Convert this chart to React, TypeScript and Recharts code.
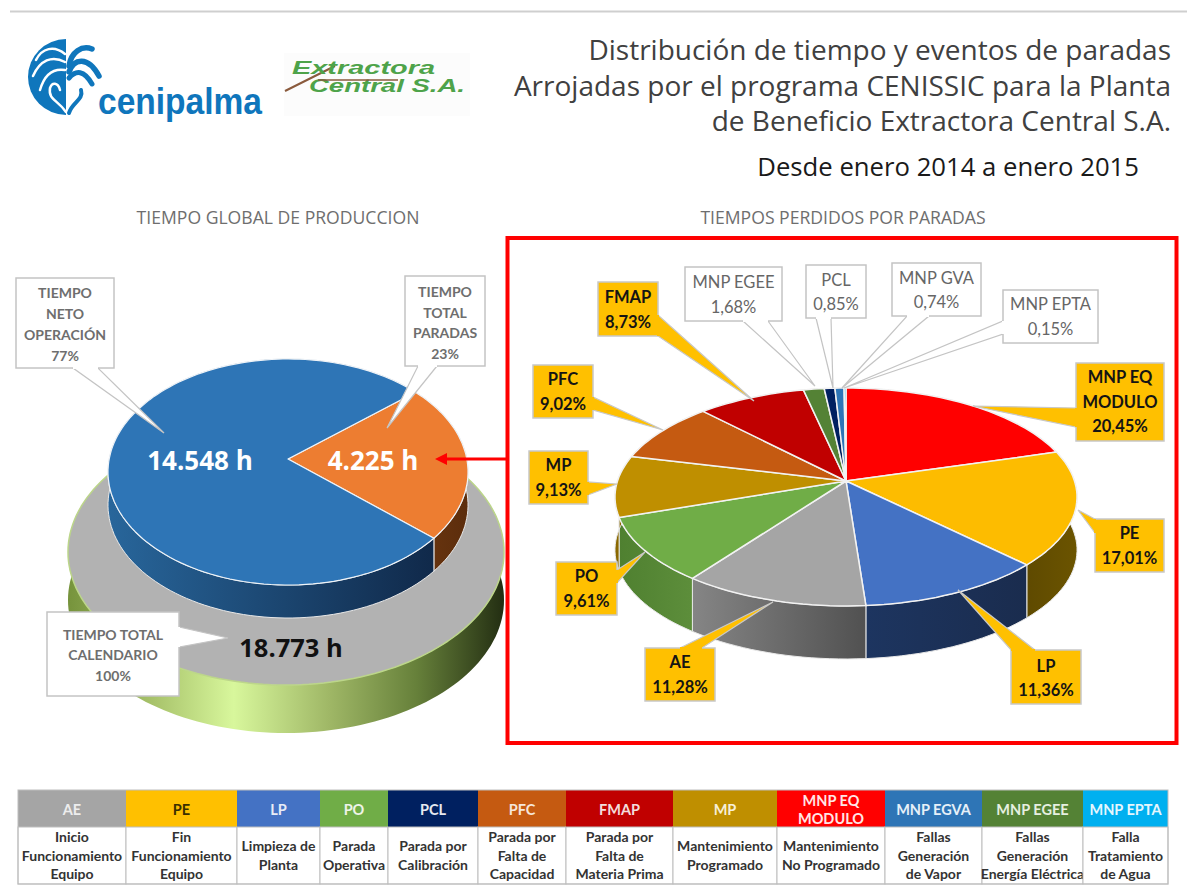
import React from "react";
import { PieChart, Pie } from "recharts";

// ---------- data ----------
const globalLabels = ["Tiempo total paradas", "Tiempo neto operación"];
const globalHours = [4225, 14548];
const globalFills = ["#ed7d31", "#2e75b6"];
const globalWalls = [["#6b3610", "#5c2d0c"], ["#28669b", "#10294a"]];

const calendarLabels = ["Tiempo total calendario"];
const calendarHours = [18773];

const stopCodes = ["MNP EQ MODULO", "PE", "LP", "AE", "PO", "MP", "PFC", "FMAP", "MNP EGEE", "PCL", "MNP GVA", "MNP EPTA"];
const stopShares = [20.45, 17.01, 11.36, 11.28, 9.61, 9.13, 9.02, 8.73, 1.68, 0.85, 0.74, 0.15];
const stopFills = ["#ff0000", "#fdbc00", "#4472c4", "#a5a5a5", "#70ad47", "#bf8f00", "#c55a11", "#c00000", "#548235", "#002060", "#2e75b6", "#00b0f0"];
const stopWalls = [
  ["#990000", "#990000"], ["#5f4a00", "#6b5400"], ["#1d3560", "#1a2c4e"], ["#858585", "#515151"],
  ["#4f8030", "#5d8e3b"], ["#8a6800", "#8a6800"], ["#8a3f0c", "#8a3f0c"], ["#860000", "#860000"],
  ["#3a5a25", "#3a5a25"], ["#001540", "#001540"], ["#1f5280", "#1f5280"], ["#007ba8", "#007ba8"],
];

const legendCodes = [["AE"], ["PE"], ["LP"], ["PO"], ["PCL"], ["PFC"], ["FMAP"], ["MP"], ["MNP EQ", "MODULO"], ["MNP EGVA"], ["MNP EGEE"], ["MNP EPTA"]];
const legendFills = ["#a5a5a5", "#ffc000", "#4472c4", "#70ad47", "#002060", "#c55a11", "#c00000", "#bf8f00", "#ff0000", "#2e75b6", "#548235", "#00b0f0"];
const legendText = ["#ededed", "#3a2f00", "#e8ecf6", "#eef4e8", "#e6e9f0", "#f6e6da", "#f3dcdc", "#f7efd8", "#ffe6e6", "#e6f0f8", "#e6efe0", "#e6f6fd"];
const legendDescriptions = [
  ["Inicio", "Funcionamiento", "Equipo"], ["Fin", "Funcionamiento", "Equipo"], ["Limpieza de", "Planta"], ["Parada", "Operativa"],
  ["Parada por", "Calibración"], ["Parada por", "Falta de", "Capacidad"], ["Parada por", "Falta de", "Materia Prima"], ["Mantenimiento", "Programado"],
  ["Mantenimiento", "No Programado"], ["Fallas", "Generación", "de Vapor"], ["Fallas", "Generación", "Energía Eléctrica"], ["Falla", "Tratamiento", "de Agua"],
];

const titleLines = ["Distribución de tiempo y eventos de paradas", "Arrojadas por el programa CENISSIC para la Planta", "de Beneficio Extractora Central S.A."];
const subtitle = "Desde enero 2014 a enero 2015";

// ---------- tables for the library ----------
const globalTable = globalHours.map((value, i) => ({ name: globalLabels[i], value, fill: globalFills[i], wallA: globalWalls[i][0], wallB: globalWalls[i][1] }));
const calendarTable = calendarHours.map((value, i) => ({ name: calendarLabels[i], value, fill: "#b2b2b2" }));
const stopTable = stopShares.map((value, i) => ({ name: stopCodes[i], value, fill: stopFills[i], wallA: stopWalls[i][0], wallB: stopWalls[i][1] }));

// ---------- perspective sector shapes ----------
const RAD = Math.PI / 180;
type View = { k: number; aspect: number; depth: number };

function rimPoints(p: any, v: View) {
  const steps = Math.max(2, Math.ceil(Math.abs(p.endAngle - p.startAngle) / 2));
  const pts: [number, number][] = [];
  for (let i = 0; i <= steps; i++) {
    const deg = p.startAngle + ((p.endAngle - p.startAngle) * i) / steps;
    const x = Math.cos(deg * RAD);
    const y = -Math.sin(deg * RAD);
    const d = 1 - v.k * y;
    pts.push([p.cx + (p.outerRadius * x) / d, p.cy + (p.outerRadius * v.aspect * y) / d]);
  }
  return pts;
}
const toPath = (pts: [number, number][]) => pts.map((q, i) => `${i ? "L" : "M"}${q[0].toFixed(1)} ${q[1].toFixed(1)}`).join("");

const topShape = (v: View, stroke: string, sw: number) => (p: any) => (
  <path d={`M${p.cx} ${p.cy}` + toPath(rimPoints(p, v)).replace("M", "L") + "Z"} fill={p.fill} stroke={stroke} strokeWidth={sw} strokeLinejoin="round" />
);

const wallShape = (v: View, prefix: string) => (p: any) => {
  const pts = rimPoints(p, v);
  const low = pts.slice().reverse().map((q) => [q[0], q[1] + v.depth] as [number, number]);
  const a = p.wallA ?? p.payload?.wallA;
  const b = p.wallB ?? p.payload?.wallB;
  const id = `${prefix}${p.index ?? String(p.name).replace(/\W/g, "")}`;
  return (
    <g>
      <defs>
        <linearGradient id={id} x1="0" x2="1" y1="0" y2="0">
          <stop offset="0" stopColor={a} />
          <stop offset="1" stopColor={b} />
        </linearGradient>
      </defs>
      <path d={toPath(pts) + toPath(low).replace("M", "L") + "Z"} fill={`url(#${id})`} stroke="#e8e8e8" strokeWidth={1} />
    </g>
  );
};

const baseWallShape = (v: View) => (p: any) => {
  const pts = rimPoints(p, v);
  const low = pts.slice().reverse().map((q) => [q[0], q[1] + v.depth] as [number, number]);
  return (
    <g>
      <defs>
        <linearGradient id="baseWall" x1="0" x2="1" y1="0" y2="0">
          <stop offset="0" stopColor="#76933c" />
          <stop offset="0.2" stopColor="#a9c46c" />
          <stop offset="0.38" stopColor="#d8f79c" />
          <stop offset="0.6" stopColor="#9fb766" />
          <stop offset="0.8" stopColor="#66803a" />
          <stop offset="1" stopColor="#232e12" />
        </linearGradient>
      </defs>
      <path d={toPath(pts) + toPath(low).replace("M", "L") + "Z"} fill="url(#baseWall)" />
    </g>
  );
};

const viewGlobal: View = { k: 0.115, aspect: 111.5 / 178.8, depth: 33 };
const viewCalendar: View = { k: 0, aspect: 133 / 218, depth: 48 };
const viewStops: View = { k: 0.147, aspect: 106.6 / 228.5, depth: 53 };

function shapeProps(fn: any) {
  return { shape: fn, inactiveShape: fn, activeShape: fn };
}

// ---------- callouts ----------
const FONT = "Lato, 'Open Sans', sans-serif";
type Call = { lines: string[]; box: number[]; wedge: number[][]; rows: number[]; fill: string; stroke: string; color: string; weight: number; size: number };

const GOLD = { fill: "#ffc000", stroke: "#c8c8c8", color: "#141414", weight: 700, size: 16.5 };
const PALE = { fill: "#ffffff", stroke: "#c4c4c4", color: "#666666", weight: 400, size: 16.5 };
const GREY = { fill: "#ffffff", stroke: "#c4c4c4", color: "#6e6e6e", weight: 700, size: 14 };

const calls: Call[] = [
  { ...GREY, lines: ["TIEMPO", "NETO", "OPERACIÓN", "77%"], box: [16, 278, 98, 90], wedge: [[73, 368], [98, 368], [164, 433]], rows: [292, 313, 334, 355] },
  { ...GREY, lines: ["TIEMPO", "TOTAL", "PARADAS", "23%"], box: [405, 276, 80, 90], wedge: [[418, 366], [437, 366], [387, 428]], rows: [291, 312, 332, 353] },
  { ...GREY, lines: ["TIEMPO TOTAL", "CALENDARIO", "100%"], box: [47, 612, 132, 84], wedge: [[179, 627], [179, 647], [228, 638]], rows: [634, 654, 675] },
  { ...GOLD, lines: ["FMAP", "8,73%"], box: [598, 282, 60, 54], wedge: [[658, 315], [658, 336], [754, 401]], rows: [297, 322] },
  { ...PALE, lines: ["MNP EGEE", "1,68%"], box: [685, 267, 97, 54], wedge: [[743, 321], [768, 321], [815, 386]], rows: [282, 307] },
  { ...PALE, lines: ["PCL", "0,85%"], box: [806, 265, 60, 53], wedge: [[816, 318], [831, 318], [833, 388]], rows: [280, 304] },
  { ...PALE, lines: ["MNP GVA", "0,74%"], box: [892, 263, 89, 53], wedge: [[907, 316], [929, 316], [842, 388]], rows: [278, 302] },
  { ...PALE, lines: ["MNP EPTA", "0,15%"], box: [1003, 290, 95, 53], wedge: [[1003, 321], [1003, 334], [844, 388]], rows: [304, 329] },
  { ...GOLD, lines: ["MNP EQ", "MODULO", "20,45%"], box: [1076, 363, 88, 78], wedge: [[1076, 408], [1076, 427], [973, 406]], rows: [377, 402, 426] },
  { ...GOLD, lines: ["PE", "17,01%"], box: [1095, 519, 69, 53], wedge: [[1095, 519], [1095, 533], [1078, 510]], rows: [533, 558] },
  { ...GOLD, lines: ["LP", "11,36%"], box: [1011, 650, 70, 54], wedge: [[1011, 650], [1035, 650], [958, 590]], rows: [666, 690] },
  { ...GOLD, lines: ["AE", "11,28%"], box: [645, 648, 70, 53], wedge: [[680, 648], [702, 648], [773, 602]], rows: [662, 687] },
  { ...GOLD, lines: ["PO", "9,61%"], box: [556, 562, 61, 53], wedge: [[617, 570], [617, 583], [645, 552]], rows: [576, 601] },
  { ...GOLD, lines: ["MP", "9,13%"], box: [529, 451, 59, 53], wedge: [[588, 482], [588, 495], [617, 484]], rows: [465, 490] },
  { ...GOLD, lines: ["PFC", "9,02%"], box: [533, 365, 60, 53], wedge: [[593, 397], [593, 410], [663, 430]], rows: [379, 404] },
];

const Callout = ({ c }: { c: Call }) => {
  const [x, y, w, h] = c.box;
  return (
    <g>
      <polygon points={c.wedge.map((q) => q.join(",")).join(" ")} fill={c.fill} stroke={c.stroke} strokeWidth={1.2} />
      <rect x={x} y={y} width={w} height={h} fill={c.fill} stroke={c.stroke} strokeWidth={1.5} />
      <line x1={c.wedge[0][0]} y1={c.wedge[0][1]} x2={c.wedge[1][0]} y2={c.wedge[1][1]} stroke={c.fill} strokeWidth={2} />
      {c.lines.map((t, i) => (
        <text key={i} x={x + w / 2} y={c.rows[i]} textAnchor="middle" dominantBaseline="central" fontFamily={FONT} fontSize={c.size} fontWeight={c.weight} fill={c.color}>
          {t}
        </text>
      ))}
    </g>
  );
};

// ---------- legend table ----------
const colEdges = [18, 126, 237, 320, 388, 478, 566, 673, 777, 885, 982, 1083, 1168];

const LegendTable = () => (
  <g fontFamily={FONT} fontWeight={700}>
    {legendCodes.map((code, i) => {
      const x0 = colEdges[i];
      const x1 = colEdges[i + 1];
      const mid = (x0 + x1) / 2;
      const desc = legendDescriptions[i];
      return (
        <g key={i}>
          <rect x={x0} y={790} width={x1 - x0} height={37} fill={legendFills[i]} />
          <rect x={x0} y={827} width={x1 - x0} height={57} fill="#fff" stroke="#bdbdbd" strokeWidth={1} />
          {code.map((t, j) => (
            <text key={j} x={mid} y={809 + (j - (code.length - 1) / 2) * 18} textAnchor="middle" dominantBaseline="central" fontSize={14.5} fill={legendText[i]}>{t}</text>
          ))}
          {desc.map((t, j) => (
            <text key={j} x={mid} y={855 + (j - (desc.length - 1) / 2) * 18.5} textAnchor="middle" dominantBaseline="central" fontSize={14} fill="#333333">{t}</text>
          ))}
        </g>
      );
    })}
    <rect x={18} y={790} width={1150} height={94} fill="none" stroke="#bdbdbd" strokeWidth={1} />
  </g>
);

// ---------- logos ----------
const LOGO_BLUE = "#0f76bc";
const Logos = () => (
  <g>
    <path d="M66 39 A38 38 0 0 0 66 115 Z" fill={LOGO_BLUE} />
    <g fill="none" stroke="#fff" strokeLinecap="round">
      <path d="M65 54 C54 45 42 48 36 60" strokeWidth={2.5} />
      <path d="M65 62 C52 55 40 60 33 76" strokeWidth={2.5} />
      <path d="M65 70 C52 68 44 76 40 90" strokeWidth={2.5} />
      <path d="M66 112 C58 100 48 100 50 88 C52 82 58 82 60 90" strokeWidth={2.5} />
    </g>
    <g fill="none" stroke={LOGO_BLUE} strokeLinecap="round">
      <path d="M69 66 C71 52 82 45 92 49" strokeWidth={5.5} />
      <path d="M69 72 C74 58 88 56 99 76" strokeWidth={5.5} />
      <path d="M69 78 C76 70 84 70 92 84" strokeWidth={5} />
      <path d="M69 113 C72 102 84 100 81 90" strokeWidth={4} />
    </g>
    <text x={98} y={114} fontFamily="'Liberation Sans Narrow', 'Liberation Sans', sans-serif" fontWeight={700} fontSize={36} fill={LOGO_BLUE} textLength={164} lengthAdjust="spacingAndGlyphs">cenipalma</text>
    <rect x={284} y={53} width={186} height={63} fill="#fcfcfc" />
    <line x1={285} y1={91} x2={335} y2={66} stroke="#8a5a3c" strokeWidth={2} />
    <text x={292} y={74} fontFamily="'Liberation Sans', sans-serif" fontStyle="italic" fontWeight={700} fontSize={18} fill="#4ea34a" textLength={143} lengthAdjust="spacingAndGlyphs">Extractora</text>
    <text x={309} y={92} fontFamily="'Liberation Sans', sans-serif" fontStyle="italic" fontWeight={700} fontSize={18} fill="#4ea34a" textLength={156} lengthAdjust="spacingAndGlyphs">Central S.A.</text>
    <line x1={318} y1={80} x2={398} y2={80} stroke="#8a5a3c" strokeWidth={1.5} />
  </g>
);

// ---------- page ----------
export default function App() {
  return (
    <div style={{ position: "absolute", left: 0, top: 0, width: 1187, height: 889, background: "#fff", overflow: "hidden" }}>
      <div style={{ position: "absolute", left: 0, top: 0 }}>
        <PieChart width={1187} height={889} margin={{ top: 0, right: 0, bottom: 0, left: 0 }}>
          <Pie data={calendarTable} dataKey="value" nameKey="name" cx={286} cy={552} outerRadius={218} startAngle={90} endAngle={-270} isAnimationActive={false} label={false} labelLine={false} stroke="none" {...shapeProps(baseWallShape(viewCalendar))} />
          <Pie data={calendarTable} dataKey="value" nameKey="name" cx={286} cy={552} outerRadius={218} startAngle={90} endAngle={-270} isAnimationActive={false} label={false} labelLine={false} stroke="none" {...shapeProps(topShape(viewCalendar, "#bcd68a", 1.5))} />
          <Pie data={globalTable} dataKey="value" nameKey="name" cx={288} cy={459} outerRadius={178.8} startAngle={40} endAngle={-320} isAnimationActive={false} label={false} labelLine={false} stroke="none" {...shapeProps(wallShape(viewGlobal, "gw"))} />
          <Pie data={globalTable} dataKey="value" nameKey="name" cx={288} cy={459} outerRadius={178.8} startAngle={40} endAngle={-320} isAnimationActive={false} label={false} labelLine={false} stroke="none" {...shapeProps(topShape(viewGlobal, "#eef3f8", 1.2))} />
          <Pie data={stopTable} dataKey="value" nameKey="name" cx={846} cy={481} outerRadius={228.5} startAngle={90} endAngle={-270} isAnimationActive={false} label={false} labelLine={false} stroke="none" {...shapeProps(wallShape(viewStops, "sw"))} />
          <Pie data={stopTable} dataKey="value" nameKey="name" cx={846} cy={481} outerRadius={228.5} startAngle={90} endAngle={-270} isAnimationActive={false} label={false} labelLine={false} stroke="none" {...shapeProps(topShape(viewStops, "#f2f2f2", 1.5))} />
        </PieChart>
      </div>
      <svg width={1187} height={889} style={{ position: "absolute", left: 0, top: 0 }}>
        <line x1={10} y1={11.5} x2={1187} y2={11.5} stroke="#cfcfcf" strokeWidth={2} />
        <Logos />
        {titleLines.map((t, i) => (
          <text key={i} x={1171} y={[60, 96, 131][i]} textAnchor="end" fontFamily="'Open Sans', sans-serif" fontSize={28} fill="#404040">{t}</text>
        ))}
        <text x={1139} y={176} textAnchor="end" fontFamily="'Open Sans', sans-serif" fontSize={25.7} fill="#1a1a1a">{subtitle}</text>
        <text x={278} y={224} textAnchor="middle" fontFamily="'Open Sans', sans-serif" fontSize={17.6} fill="#6e6e6e">TIEMPO GLOBAL DE PRODUCCION</text>
        <text x={843} y={224} textAnchor="middle" fontFamily="'Open Sans', sans-serif" fontSize={17.6} fill="#6e6e6e">TIEMPOS PERDIDOS POR PARADAS</text>
        <rect x={507.5} y={238} width={669} height={505} fill="none" stroke="#ff0000" strokeWidth={4} />
        <line x1={507} y1={459} x2={444} y2={459} stroke="#ff0000" strokeWidth={3} />
        <polygon points="435,459 447,453 447,465" fill="#ff0000" />
        {calls.map((c, i) => <Callout key={i} c={c} />)}
        <text x={200} y={460} textAnchor="middle" dominantBaseline="central" fontFamily={"'Open Sans', sans-serif"} fontWeight={700} fontSize={26} fill="#fff">14.548 h</text>
        <text x={373} y={460} textAnchor="middle" dominantBaseline="central" fontFamily={"'Open Sans', sans-serif"} fontWeight={700} fontSize={26} fill="#fff">4.225 h</text>
        <text x={291} y={647} textAnchor="middle" dominantBaseline="central" fontFamily={"'Open Sans', sans-serif"} fontWeight={700} fontSize={25.5} fill="#111">18.773 h</text>
        <LegendTable />
      </svg>
    </div>
  );
}
